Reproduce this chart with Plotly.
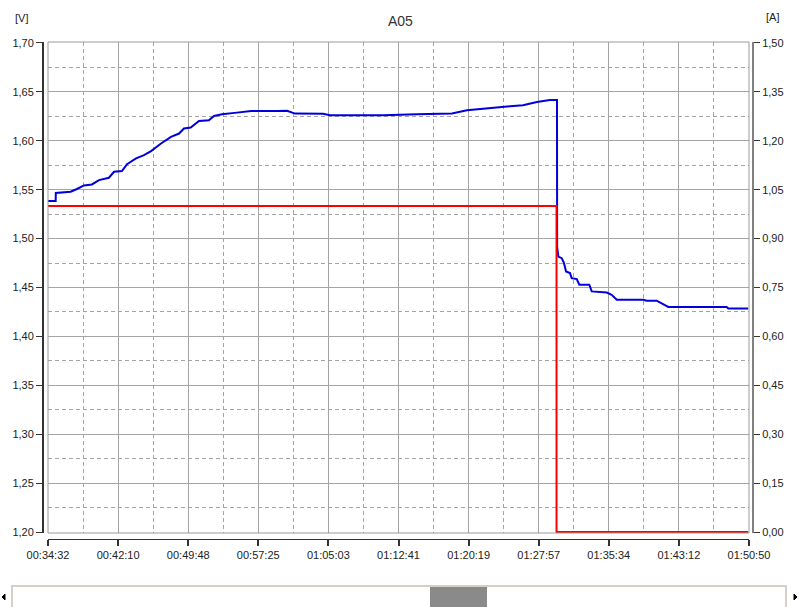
import plotly.graph_objects as go

# ---------------- data ----------------
voltage_time = [
    "00:34:32", "00:35:22", "00:35:23", "00:37:00", "00:37:41", "00:38:27", "00:39:19",
    "00:40:05", "00:41:10", "00:41:43", "00:42:35", "00:43:08", "00:44:07", "00:44:59",
    "00:45:45", "00:46:50", "00:47:55", "00:48:48", "00:49:20", "00:50:04", "00:50:58",
    "00:52:03", "00:52:36", "00:53:28", "00:55:06", "00:56:38", "00:59:28", "01:00:33",
    "01:01:25", "01:04:28", "01:05:14", "01:11:00", "01:14:42", "01:18:30", "01:20:08",
    "01:21:53", "01:23:24", "01:24:49", "01:26:14", "01:27:45", "01:29:10", "01:29:56",
    "01:29:57", "01:30:05", "01:30:27", "01:30:42", "01:30:55", "01:31:21", "01:31:32",
    "01:32:05", "01:32:22", "01:33:27", "01:33:43", "01:35:21", "01:35:53", "01:36:26",
    "01:39:20", "01:39:42", "01:40:47", "01:42:03", "01:48:24", "01:48:35", "01:50:45",
]
voltage = [
    1.5384, 1.5384, 1.5466, 1.5479, 1.5507, 1.5544, 1.5554,
    1.5598, 1.5622, 1.5683, 1.5690, 1.5761, 1.5820, 1.5853,
    1.5894, 1.5972, 1.6040, 1.6074, 1.6125, 1.6136, 1.6203,
    1.6210, 1.6254, 1.6271, 1.6288, 1.6305, 1.6305, 1.6307,
    1.6278, 1.6276, 1.6261, 1.6261, 1.6271, 1.6278, 1.6312,
    1.6329, 1.6346, 1.6353, 1.6363, 1.6397, 1.6417, 1.6417,
    1.4915, 1.4816, 1.4800, 1.4749, 1.4664, 1.4647, 1.4596,
    1.4586, 1.4528, 1.4528, 1.4460, 1.4449, 1.4426, 1.4375,
    1.4375, 1.4365, 1.4365, 1.4301, 1.4301, 1.4286, 1.4286,
]

current_time = ["00:34:32", "01:29:53", "01:29:53", "01:50:45"]
current = [1.00, 1.00, 0.00, 0.00]

x_tick_labels = ["00:34:32", "00:42:10", "00:49:48", "00:57:25", "01:05:03", "01:12:41",
                 "01:20:19", "01:27:57", "01:35:34", "01:43:12", "01:50:50"]
v_ticks = [1.20, 1.25, 1.30, 1.35, 1.40, 1.45, 1.50, 1.55, 1.60, 1.65, 1.70]
a_ticks = [0.00, 0.15, 0.30, 0.45, 0.60, 0.75, 0.90, 1.05, 1.20, 1.35, 1.50]

title_text = "A05"
left_unit = "[V]"
right_unit = "[A]"


def to_sec(s):
    h, m, sec = map(int, s.split(":"))
    return h * 3600 + m * 60 + sec


vx = [to_sec(t) for t in voltage_time]
ax = [to_sec(t) for t in current_time]
xt = [to_sec(t) for t in x_tick_labels]
x_minor = [(a + b) / 2 for a, b in zip(xt[:-1], xt[1:])]
v_minor = [(a + b) / 2 for a, b in zip(v_ticks[:-1], v_ticks[1:])]

# ---------------- layout geometry (pixels) ----------------
W, H = 800, 607
ML, MR, MT, MB = 43, 47, 42, 68
PW = W - ML - MR
PH = H - MT - MB


def px(x):
    return (x - ML) / PW


def py(y):
    return (H - MB - y) / PH


FONT = "Liberation Sans, Arial, sans-serif"
GRID = "#a4a4a4"

fig = go.Figure()
fig.add_trace(go.Scatter(x=vx, y=voltage, mode="lines", yaxis="y",
                         line=dict(color="#0000dc", width=2), showlegend=False,
                         hoverinfo="skip"))
fig.add_trace(go.Scatter(x=ax, y=current, mode="lines", yaxis="y2",
                         line=dict(color="#ff0000", width=2), showlegend=False,
                         hoverinfo="skip"))

xdom = [px(48), px(749)]
ydom = [py(533), 1.0]

fig.update_layout(
    width=W, height=H,
    margin=dict(l=ML, r=MR, t=MT, b=MB, pad=0, autoexpand=False),
    paper_bgcolor="white", plot_bgcolor="white",
    separators=", ",
    font=dict(family=FONT, size=11, color="#222222"),
    xaxis=dict(
        domain=xdom, anchor="free", position=0, automargin=False,
        range=[xt[0], xt[-1]],
        tickmode="array", tickvals=xt, ticktext=x_tick_labels,
        showline=True, linecolor="#333333", linewidth=1,
        ticks="outside", ticklen=6, tickcolor="#333333", tickwidth=2,
        showgrid=True, gridcolor=GRID, gridwidth=1,
        minor=dict(tickmode="array", tickvals=x_minor, showgrid=True,
                   gridcolor=GRID, griddash="4px,3px", gridwidth=1, ticks=""),
        zeroline=False, fixedrange=True,
    ),
    yaxis=dict(
        domain=ydom, anchor="free", position=0, automargin=False,
        range=[1.199, 1.701],
        tickmode="array", tickvals=v_ticks, tickformat=".2f",
        showline=True, linecolor="#333333", linewidth=2,
        ticks="outside", ticklen=6, tickcolor="#333333", tickwidth=1,
        showgrid=True, gridcolor=GRID, gridwidth=1,
        minor=dict(tickmode="array", tickvals=v_minor, showgrid=True,
                   gridcolor=GRID, griddash="4px,3px", gridwidth=1, ticks=""),
        zeroline=False, fixedrange=True,
    ),
    yaxis2=dict(
        domain=ydom, anchor="free", position=1, overlaying="y", side="right",
        automargin=False,
        range=[-0.003, 1.503],
        tickmode="array", tickvals=a_ticks, tickformat=".2f",
        showline=True, linecolor="#808080", linewidth=2,
        ticks="outside", ticklen=6, tickcolor="#333333", tickwidth=1,
        showgrid=False, zeroline=False, fixedrange=True,
    ),
    annotations=[
        dict(text=title_text, x=px(400), y=py(21), xref="paper", yref="paper",
             showarrow=False, font=dict(size=14, color="#333333", family=FONT),
             xanchor="center", yanchor="middle"),
        dict(text=left_unit, x=px(21), y=py(18), xref="paper", yref="paper",
             showarrow=False, font=dict(size=11, color="#222222", family=FONT),
             xanchor="center", yanchor="middle"),
        dict(text=right_unit, x=px(772), y=py(17), xref="paper", yref="paper",
             showarrow=False, font=dict(size=11, color="#222222", family=FONT),
             xanchor="center", yanchor="middle"),
    ],
    shapes=[
        # plot frame
        dict(type="rect", xref="x domain", yref="y domain", x0=0, x1=1, y0=0, y1=1,
             line=dict(color="#9a9a9a", width=1), layer="above"),
        # scrollbar track
        dict(type="rect", xref="paper", yref="paper", x0=px(12), x1=px(786),
             y0=py(608), y1=py(586), fillcolor="white",
             line=dict(color="#d4d0c8", width=2)),
        # scrollbar thumb
        dict(type="rect", xref="paper", yref="paper", x0=px(430), x1=px(487),
             y0=py(608), y1=py(587), fillcolor="#8a8a8a",
             line=dict(color="#8a8a8a", width=0)),
        # arrows
        dict(type="path", xref="paper", yref="paper",
             path=f"M {px(2)} {py(597)} L {px(5)} {py(594)} L {px(5)} {py(600)} Z",
             fillcolor="black", line=dict(color="black", width=1)),
        dict(type="path", xref="paper", yref="paper",
             path=f"M {px(797)} {py(597)} L {px(794)} {py(594)} L {px(794)} {py(600)} Z",
             fillcolor="black", line=dict(color="black", width=1)),
    ],
)

fig.write_html(
    "out.html",
    config={"displayModeBar": False, "staticPlot": True},
    post_script="document.body.style.margin='0px';document.body.style.overflow='hidden';",
)
